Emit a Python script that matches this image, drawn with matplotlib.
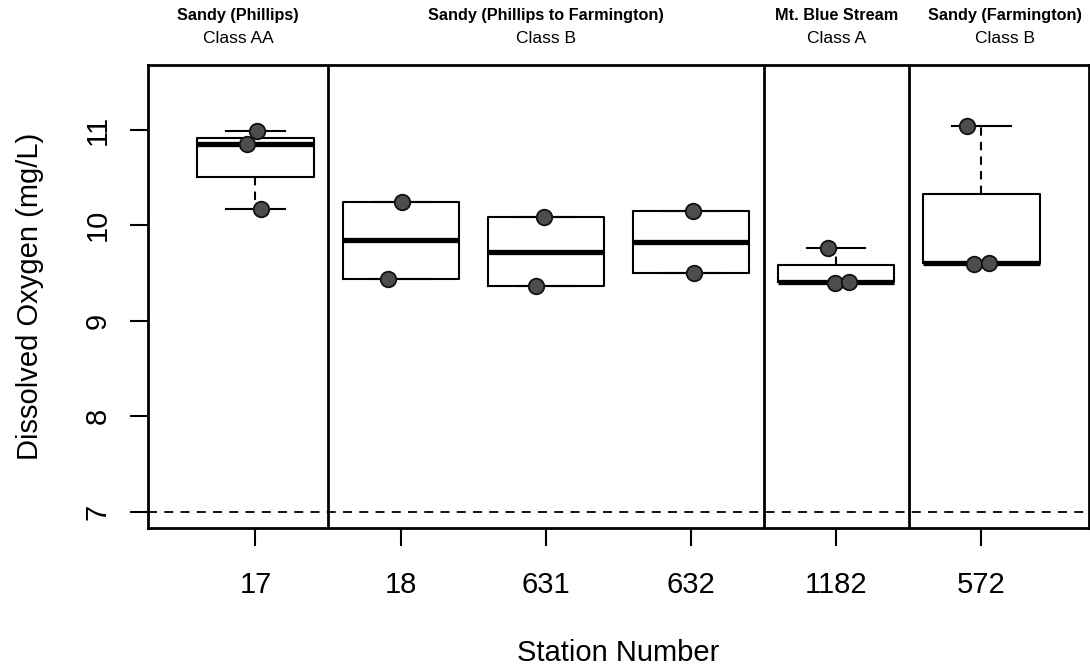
import matplotlib.pyplot as plt
import numpy as np

plt.rcParams['font.family'] = ['Liberation Sans', 'DejaVu Sans']

stations = ['17', '18', '631', '632', '1182', '572']
do_values = [
    [10.17, 10.85, 10.99],
    [9.44, 10.25],
    [9.36, 10.09],
    [9.50, 10.15],
    [9.40, 9.41, 9.76],
    [9.60, 9.61, 11.04],
]
# horizontal spread of the individual samples around each box
jitter = [
    [0.035, -0.06, 0.01],
    [-0.09, 0.01],
    [-0.07, -0.01],
    [0.02, 0.01],
    [-0.01, 0.09, -0.06],
    [-0.05, 0.05, -0.10],
]
reaches = ['Sandy (Phillips)', 'Sandy (Phillips to Farmington)',
           'Mt. Blue Stream', 'Sandy (Farmington)']
classes = ['Class AA', 'Class B', 'Class A', 'Class B']
reach_bounds = [0.26, 1.5, 4.5, 5.5, 6.74]
do_standard = 7


def fivenum(v):
    # Tukey five-number summary (same hinges as R's boxplot)
    v = np.sort(np.asarray(v, dtype=float))
    n = len(v)
    n4 = np.floor((n + 3) / 2) / 2
    d = np.array([1, n4, (n + 1) / 2, n + 1 - n4, n]) - 1
    return 0.5 * (v[np.floor(d).astype(int)] + v[np.ceil(d).astype(int)])


stats = []
for vals in do_values:
    lo, q1, med, q3, hi = fivenum(vals)
    iqr = q3 - q1
    arr = np.array(vals)
    wlo = arr[arr >= q1 - 1.5 * iqr].min()
    whi = arr[arr <= q3 + 1.5 * iqr].max()
    stats.append(dict(med=med, q1=q1, q3=q3, whislo=wlo, whishi=whi, fliers=[]))

fig = plt.figure(figsize=(10.9, 6.68), dpi=100)
ax = fig.add_axes([0.1358, 0.2096, 0.8632, 0.6931])

pos = np.arange(1, len(stations) + 1)
ax.bxp(stats, positions=pos, widths=0.8, capwidths=0.4, showfliers=False,
       boxprops=dict(color='black', linewidth=1.5),
       whiskerprops=dict(color='black', linewidth=1.5, linestyle=(0, (4, 3))),
       capprops=dict(color='black', linewidth=1.5),
       medianprops=dict(color='black', linewidth=3.8, solid_capstyle='butt'))

for i, vals in enumerate(do_values):
    ax.scatter(pos[i] + np.array(jitter[i]), vals, s=125, facecolor='#4d4d4d',
               edgecolor='#111111', linewidth=1.3, zorder=5)

ax.axhline(do_standard, color='black', linestyle=(0, (5, 4)), linewidth=1.3)
for b in reach_bounds[1:-1]:
    ax.axvline(b, color='black', linewidth=2)

# reach name and water class above each panel
label_x = [1.0 * (reach_bounds[i] + reach_bounds[i + 1]) / 2 for i in range(len(reaches))]
label_x[-1] += 0.04
for i in range(len(reaches)):
    ax.text(label_x[i], 1.106, reaches[i], transform=ax.get_xaxis_transform(),
            ha='center', va='center', fontsize=11.7, fontweight='bold')
    ax.text(label_x[i], 1.058, classes[i], transform=ax.get_xaxis_transform(),
            ha='center', va='center', fontsize=12.5)

ax.set_xlim(0.26, 6.74)
ax.set_ylim(6.83, 11.68)
ax.set_xticks(pos)
ax.set_xticklabels(stations)
ax.set_yticks([7, 8, 9, 10, 11])
ax.set_yticklabels(['7', '8', '9', '10', '11'], rotation=90, va='center')
ax.tick_params(axis='both', length=13, width=1.5, labelsize=21, pad=18)
ax.tick_params(axis='y', pad=13)
for s in ax.spines.values():
    s.set_linewidth(2)

ax.set_xlabel('Station Number', fontsize=21, labelpad=29)
ax.set_ylabel('Dissolved Oxygen (mg/L)', fontsize=21, labelpad=29)

fig.savefig('out.png', dpi=100)
